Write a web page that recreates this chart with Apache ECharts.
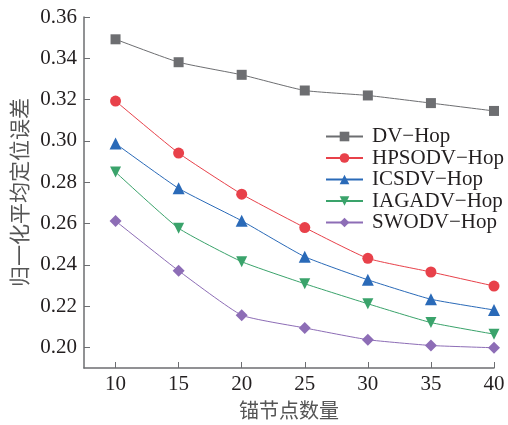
<!DOCTYPE html>
<html>
<head>
<meta charset="utf-8">
<script src="https://cdn.jsdelivr.net/npm/echarts@6/dist/echarts.min.js"></script>
<style>html,body{margin:0;padding:0;background:#fff;}#c{width:508px;height:425px;}</style>
</head>
<body>
<div id="c"></div>
<script>
const anchors = [10, 15, 20, 25, 30, 35, 40];
const xTicks = [10, 15, 20, 25, 30, 35, 40];
const yTicks = [0.20, 0.22, 0.24, 0.26, 0.28, 0.30, 0.32, 0.34, 0.36];
const seriesNames = ['DV\u2212Hop', 'HPSODV\u2212Hop', 'ICSDV\u2212Hop', 'IAGADV\u2212Hop', 'SWODV\u2212Hop'];
const dvHop     = [0.3492, 0.3381, 0.3320, 0.3244, 0.3220, 0.3183, 0.3145];
const hpsodvHop = [0.3193, 0.2941, 0.2742, 0.2580, 0.2431, 0.2365, 0.2297];
const icsdvHop  = [0.2987, 0.2770, 0.2613, 0.2439, 0.2327, 0.2233, 0.2181];
const iagadvHop = [0.2849, 0.2577, 0.2415, 0.2308, 0.2211, 0.2120, 0.2064];
const swodvHop  = [0.2612, 0.2371, 0.2156, 0.2094, 0.2037, 0.2009, 0.1998];

const values = [dvHop, hpsodvHop, icsdvHop, iagadvHop, swodvHop];
const colors = ['#6d6e71', '#e8414a', '#2a6ab8', '#3aa36b', '#8d6db6'];
const symbols = ['rect', 'circle', 'triangle', 'triangle', 'diamond'];
const symbolSizes = [10, 11, 12, 11, 12];
const rotates = [0, 0, 0, 180, 0];

const serif = '"Liberation Serif", "Times New Roman", serif';
const cjk = '"Noto Sans CJK SC", sans-serif';
const axisColor = '#6d6e71';

const chart = echarts.init(document.getElementById('c'), null, {renderer: 'canvas'});
chart.setOption({
  animation: false,
  backgroundColor: '#fff',
  grid: {left: 84, right: 14, top: 17, bottom: 50, containLabel: false},
  legend: {
    orient: 'vertical', left: 325, top: 126, padding: 0,
    itemWidth: 37, itemHeight: 12, itemGap: 0.5,
    textStyle: {fontFamily: serif, fontSize: 21, lineHeight: 20, color: '#231f20', padding: [0,0,0,4]},
    data: seriesNames
  },
  xAxis: {
    type: 'value', min: 7.5, max: 40,
    name: '锚节点数量', nameLocation: 'middle', nameGap: 32,
    nameTextStyle: {fontFamily: cjk, fontSize: 20, color: '#555'},
    axisLine: {show: true, lineStyle: {color: axisColor, width: 1.5}},
    axisTick: {show: true, inside: true, length: 6, customValues: xTicks, lineStyle: {color: axisColor}},
    axisLabel: {customValues: xTicks, fontFamily: serif, fontSize: 21, color: '#231f20', margin: 6},
    splitLine: {show: false}
  },
  yAxis: {
    type: 'value', min: 0.19, max: 0.36,
    name: '归一化平均定位误差', nameLocation: 'middle', nameGap: 50,
    nameTextStyle: {fontFamily: cjk, fontSize: 21, color: '#555'},
    axisLine: {show: true, lineStyle: {color: axisColor, width: 1.5}},
    axisTick: {show: true, inside: true, length: 6, customValues: yTicks, lineStyle: {color: axisColor}},
    axisLabel: {customValues: yTicks, fontFamily: serif, fontSize: 21, color: '#231f20', margin: 7,
      formatter: v => v.toFixed(2)},
    splitLine: {show: false}
  },
  series: seriesNames.map((n, i) => ({
    name: n, type: 'line',
    data: anchors.map((x, j) => [x, values[i][j]]),
    symbol: symbols[i], symbolSize: symbolSizes[i], symbolRotate: rotates[i],
    smooth: 0.15,
    lineStyle: {color: colors[i], width: 1},
    itemStyle: {color: colors[i]}
  }))
});
</script>
</body>
</html>
